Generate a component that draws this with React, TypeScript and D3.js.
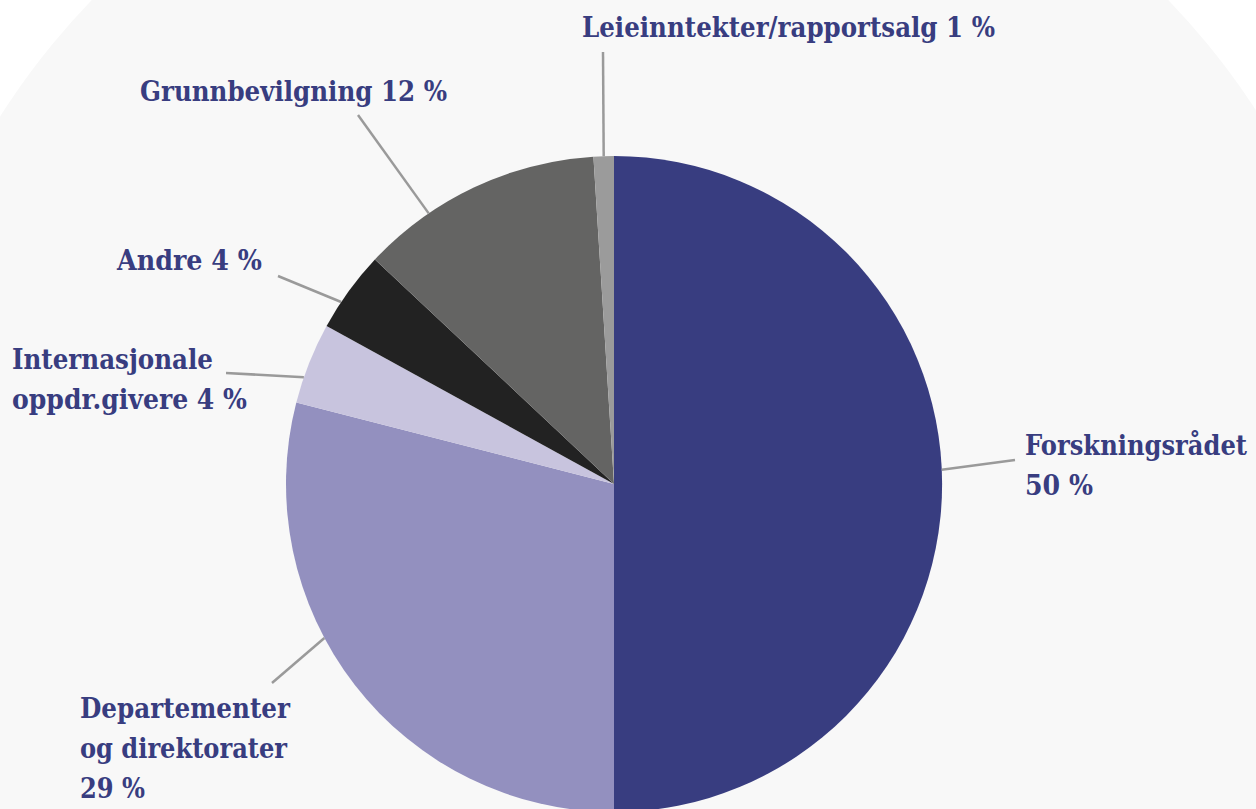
import React from "react";
import * as d3 from "d3";

const categories = [
  "Forskningsrådet",
  "Departementer og direktorater",
  "Internasjonale oppdr.givere",
  "Andre",
  "Grunnbevilgning",
  "Leieinntekter/rapportsalg",
];
const values = [50, 29, 4, 4, 12, 1];
const colors = ["#383d80", "#9390bf", "#c8c4de", "#222222", "#646463", "#9b9b9b"];

// label layout: lines of text, text x, first baseline, widths per line, leader anchor angle (deg), leader outer point
const labelLayout = [
  { lines: ["Forskningsrådet", "50 %"], x: 1025, y: 455, widths: [222, 68], angle: 87.5, ox: 1015, oy: 460 },
  { lines: ["Departementer", "og direktorater", "29 %"], x: 80, y: 718, widths: [210, 207, 65], angle: 242, ox: 272, oy: 683 },
  { lines: ["Internasjonale", "oppdr.givere 4 %"], x: 12, y: 369, widths: [201, 235], angle: 289, ox: 226, oy: 373 },
  { lines: ["Andre 4 %"], x: 117, y: 270, widths: [145], angle: 303.7, ox: 278, oy: 276 },
  { lines: ["Grunnbevilgning 12 %"], x: 140, y: 101, widths: [307], angle: 325.6, ox: 358, oy: 115 },
  { lines: ["Leieinntekter/rapportsalg 1 %"], x: 582, y: 37, widths: [413], angle: 358.2, ox: 603, oy: 52 },
];

const W = 1256;
const H = 809;
const cx = 614;
const cy = 484;
const R = 328;

export default function App() {
  const pie = d3.pie<number>().sort(null).value((d) => d);
  const arcs = pie(values);
  const arc = d3.arc<d3.PieArcDatum<number>>().innerRadius(0).outerRadius(R);
  const textColor = "#383d80";
  return (
    <svg
      width={W}
      height={H}
      style={{ position: "absolute", left: 0, top: 0, background: "#ffffff" }}
    >
      <circle cx={630} cy={518} r={747} fill="#f8f8f8" />
      <g transform={`translate(${cx},${cy})`}>
        {arcs.map((a, i) => (
          <path key={categories[i]} d={arc(a) || ""} fill={colors[i]} />
        ))}
      </g>
      {labelLayout.map((l, i) => {
        const rad = (l.angle * Math.PI) / 180;
        const ix = cx + R * Math.sin(rad);
        const iy = cy - R * Math.cos(rad);
        return (
          <g key={i}>
            <line x1={l.ox} y1={l.oy} x2={ix} y2={iy} stroke="#9a9a9a" strokeWidth={2.5} />
            {l.lines.map((t, j) => (
              <text
                key={j}
                x={l.x}
                y={l.y + j * 40}
                fill={textColor}
                fontFamily="'DejaVu Serif', serif"
                fontWeight="bold"
                fontSize={28}
                textLength={l.widths[j]}
                lengthAdjust="spacingAndGlyphs"
              >
                {t}
              </text>
            ))}
          </g>
        );
      })}
    </svg>
  );
}
